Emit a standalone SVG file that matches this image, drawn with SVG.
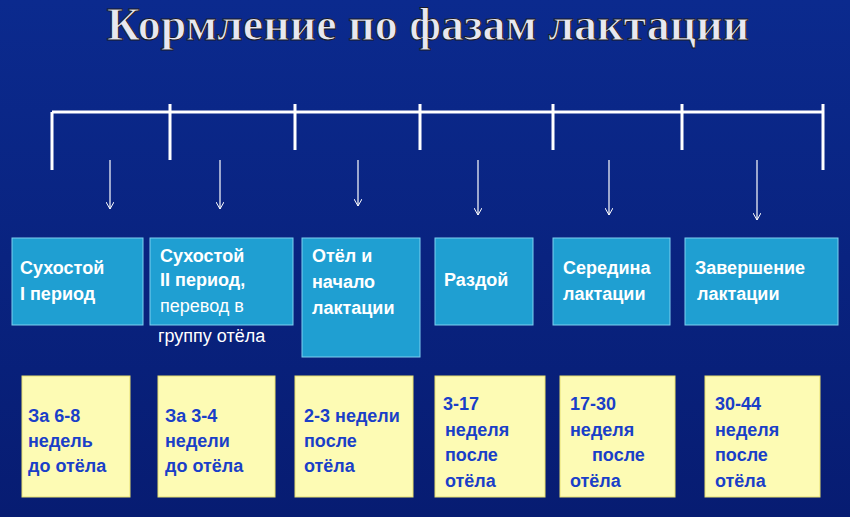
<svg xmlns="http://www.w3.org/2000/svg" width="850" height="517" viewBox="0 0 850 517">
<defs>
<linearGradient id="bg" x1="0" y1="0" x2="0" y2="1"><stop offset="0" stop-color="#0b2a8e"/><stop offset="1" stop-color="#071c72"/></linearGradient>
<marker id="ah" markerWidth="8" markerHeight="8" refX="7" refY="4" orient="auto" markerUnits="userSpaceOnUse"><path d="M0,0 L7,4 L0,8" fill="none" stroke="#fff" stroke-width="1"/></marker>
</defs>
<style>
.t{font-family:"Liberation Serif",serif;font-weight:bold;font-size:46px;fill:#e8e8f0}
.bb{fill:#1f9fd2;stroke:#7fd0f0;stroke-width:1}
.yb{fill:#fdfbb4;stroke:#e8e070;stroke-width:1}
.bt{font-family:"Liberation Sans",sans-serif;font-weight:bold;font-size:18px;fill:#fff}
.bn{font-family:"Liberation Sans",sans-serif;font-size:18px;fill:#fff}
.yt{font-family:"Liberation Sans",sans-serif;font-weight:bold;font-size:18px;fill:#1a3fc8}
.ln{stroke:#fff;stroke-width:3;fill:none}
.ar{stroke:#fff;stroke-width:1.2;fill:none;marker-end:url(#ah)}
</style>
<rect width="850" height="517" fill="url(#bg)"/>
<text class="t" x="428" y="40" text-anchor="middle" stroke="#1a1a2a" stroke-width="1">Кормление по фазам лактации</text>
<g id="connectors">
<path class="ln" d="M52,112 H823 M52,112 V170 M170,104 V160 M295,104 V150 M420,104 V150 M553,104 V150 M682,104 V150 M823,104 V170"/>
<path class="ar" d="M110,160 V209"/>
<path class="ar" d="M220,160 V209"/>
<path class="ar" d="M358,160 V206"/>
<path class="ar" d="M478,160 V215"/>
<path class="ar" d="M609,160 V215"/>
<path class="ar" d="M757,160 V220"/>
</g>
<g id="n1"><rect class="bb" x="12" y="238" width="131" height="87"/><text class="bt" x="20" y="274">Сухостой</text><text class="bt" x="20" y="300">I период</text></g>
<g id="n2"><rect class="bb" x="150" y="238" width="143" height="87"/><text class="bt" x="160" y="262">Сухостой</text><text class="bt" x="160" y="286">II период,</text><text class="bn" x="160" y="312">перевод в</text><text class="bn" x="158" y="342">группу отёла</text></g>
<g id="n3"><rect class="bb" x="302" y="238" width="118" height="119"/><text class="bt" x="312" y="262">Отёл и</text><text class="bt" x="312" y="288">начало</text><text class="bt" x="312" y="314">лактации</text></g>
<g id="n4"><rect class="bb" x="435" y="238" width="98" height="87"/><text class="bt" x="444" y="286">Раздой</text></g>
<g id="n5"><rect class="bb" x="553" y="238" width="117" height="87"/><text class="bt" x="563" y="274">Середина</text><text class="bt" x="563" y="300">лактации</text></g>
<g id="n6"><rect class="bb" x="685" y="238" width="153" height="87"/><text class="bt" x="695" y="274">Завершение</text><text class="bt" x="697" y="300">лактации</text></g>
<g id="y1"><rect class="yb" x="22" y="376" width="108" height="121"/><text class="yt" x="28" y="422">За 6-8</text><text class="yt" x="28" y="447">недель</text><text class="yt" x="28" y="472">до отёла</text></g>
<g id="y2"><rect class="yb" x="158" y="376" width="117" height="121"/><text class="yt" x="165" y="422">За 3-4</text><text class="yt" x="165" y="447">недели</text><text class="yt" x="165" y="472">до отёла</text></g>
<g id="y3"><rect class="yb" x="295" y="376" width="118" height="121"/><text class="yt" x="304" y="422">2-3 недели</text><text class="yt" x="304" y="447">после</text><text class="yt" x="304" y="472">отёла</text></g>
<g id="y4"><rect class="yb" x="435" y="376" width="110" height="121"/><text class="yt" x="443" y="410">3-17</text><text class="yt" x="445" y="436">неделя</text><text class="yt" x="445" y="461">после</text><text class="yt" x="445" y="487">отёла</text></g>
<g id="y5"><rect class="yb" x="560" y="376" width="115" height="121"/><text class="yt" x="570" y="410">17-30</text><text class="yt" x="570" y="436">неделя</text><text class="yt" x="592" y="461">после</text><text class="yt" x="570" y="487">отёла</text></g>
<g id="y6"><rect class="yb" x="705" y="376" width="115" height="121"/><text class="yt" x="715" y="410">30-44</text><text class="yt" x="715" y="436">неделя</text><text class="yt" x="715" y="461">после</text><text class="yt" x="715" y="487">отёла</text></g>
</svg>
